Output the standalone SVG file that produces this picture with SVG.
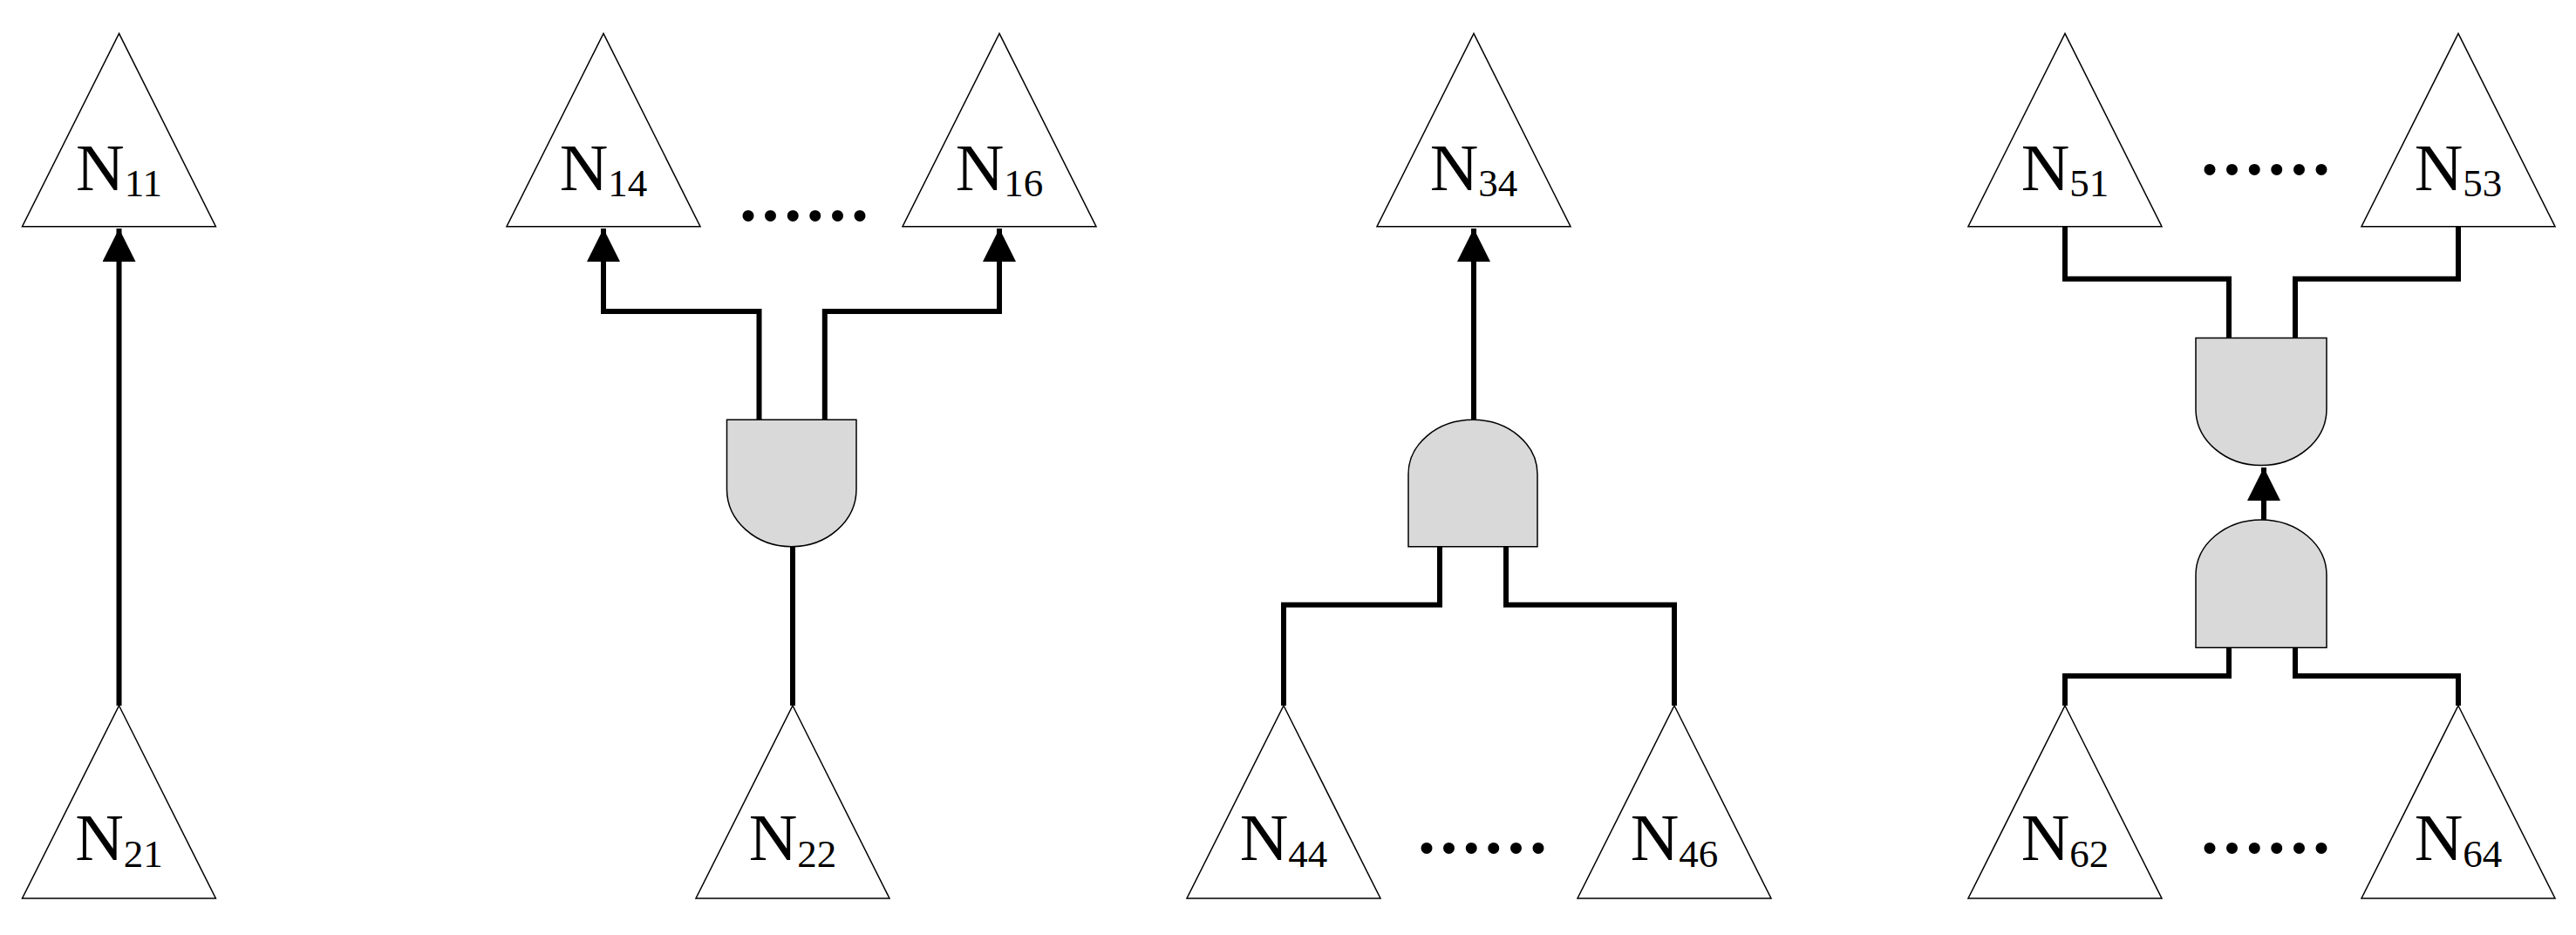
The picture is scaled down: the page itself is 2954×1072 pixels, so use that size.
<svg xmlns="http://www.w3.org/2000/svg" width="2954" height="1072" viewBox="0 0 2954 1072">
<style>
.tri{fill:#fff;stroke:#000;stroke-width:1.5}
.gate{fill:#d9d9d9;stroke:#000;stroke-width:1.5}
.c{fill:none;stroke:#000;stroke-width:6}
.lbl{font-family:"Liberation Serif",serif;font-size:77px;fill:#000}
.sub{font-size:45px}
.dots{font-family:"Liberation Serif",serif;font-size:80px;font-weight:bold;letter-spacing:5.6px;fill:#000}
</style>
<defs>
<marker id="ah" markerUnits="userSpaceOnUse" markerWidth="40" markerHeight="38" refX="38" refY="19" orient="auto">
<path d="M0,0 L38,19 L0,38 Z" fill="#000"/>
</marker>
</defs>
<g id="connectors">
<path class="c" d="M136.5,809 V262" marker-end="url(#ah)"/>
<path class="c" d="M870.5,481.3 V357 H692 V262" marker-end="url(#ah)"/>
<path class="c" d="M945.8,481.3 V357 H1146 V262" marker-end="url(#ah)"/>
<path class="c" d="M909,626.8 V809"/>
<path class="c" d="M1690,481.3 V262" marker-end="url(#ah)"/>
<path class="c" d="M1651,626.8 V693.4 H1472 V809"/>
<path class="c" d="M1727,626.8 V693.4 H1920 V809"/>
<path class="c" d="M2556,387.5 V319.8 H2368 V260"/>
<path class="c" d="M2632,387.5 V319.8 H2819 V260"/>
<path class="c" d="M2596,595.9 V536" marker-end="url(#ah)"/>
<path class="c" d="M2556,742.4 V775 H2368 V809"/>
<path class="c" d="M2632,742.4 V775 H2819 V809"/>
</g>
<g id="gate1"><path class="gate" d="M833.5,481.3 H982 V560.7 A74.25,66 0 0 1 833.5,560.7 Z"/></g>
<g id="gate2"><path class="gate" d="M1615,626.8 V543.7 A74,62.4 0 0 1 1763,543.7 V626.8 Z"/></g>
<g id="gate3"><path class="gate" d="M2518,387.5 H2668 V469 A75,64.6 0 0 1 2518,469 Z"/></g>
<g id="gate4"><path class="gate" d="M2518,742.4 V659.4 A75,63.5 0 0 1 2668,659.4 V742.4 Z"/></g>
<g id="N11"><path class="tri" d="M136.5,38.4 L247.4,259.7 L25.5,259.7 Z"/><text class="lbl" x="136.5" y="217.5" text-anchor="middle">N<tspan class="sub" dy="7">11</tspan></text></g>
<g id="N21"><path class="tri" d="M136.5,809 L247.4,1030 L25.5,1030 Z"/><text class="lbl" x="136.5" y="986" text-anchor="middle">N<tspan class="sub" dy="7.5">21</tspan></text></g>
<g id="N14"><path class="tri" d="M692,38.4 L803,259.7 L581,259.7 Z"/><text class="lbl" x="692" y="217.5" text-anchor="middle">N<tspan class="sub" dy="7">14</tspan></text></g>
<g id="N16"><path class="tri" d="M1146,38.4 L1257,259.7 L1035,259.7 Z"/><text class="lbl" x="1146" y="217.5" text-anchor="middle">N<tspan class="sub" dy="7">16</tspan></text></g>
<g id="N22"><path class="tri" d="M909,809 L1020,1030 L798,1030 Z"/><text class="lbl" x="909" y="986" text-anchor="middle">N<tspan class="sub" dy="7.5">22</tspan></text></g>
<g id="N34"><path class="tri" d="M1690,38.4 L1801,259.7 L1579,259.7 Z"/><text class="lbl" x="1690" y="217.5" text-anchor="middle">N<tspan class="sub" dy="7">34</tspan></text></g>
<g id="N44"><path class="tri" d="M1472,809 L1583,1030 L1361,1030 Z"/><text class="lbl" x="1472" y="986" text-anchor="middle">N<tspan class="sub" dy="7.5">44</tspan></text></g>
<g id="N46"><path class="tri" d="M1920,809 L2031,1030 L1809,1030 Z"/><text class="lbl" x="1920" y="986" text-anchor="middle">N<tspan class="sub" dy="7.5">46</tspan></text></g>
<g id="N51"><path class="tri" d="M2368,38.4 L2479,259.7 L2257,259.7 Z"/><text class="lbl" x="2368" y="217.5" text-anchor="middle">N<tspan class="sub" dy="7">51</tspan></text></g>
<g id="N53"><path class="tri" d="M2819,38.4 L2930,259.7 L2708,259.7 Z"/><text class="lbl" x="2819" y="217.5" text-anchor="middle">N<tspan class="sub" dy="7">53</tspan></text></g>
<g id="N62"><path class="tri" d="M2368,809 L2479,1030 L2257,1030 Z"/><text class="lbl" x="2368" y="986" text-anchor="middle">N<tspan class="sub" dy="7.5">62</tspan></text></g>
<g id="N64"><path class="tri" d="M2819,809 L2930,1030 L2708,1030 Z"/><text class="lbl" x="2819" y="986" text-anchor="middle">N<tspan class="sub" dy="7.5">64</tspan></text></g>
<text class="dots" x="848" y="253">......</text>
<text class="dots" x="1626" y="978">......</text>
<text class="dots" x="2524" y="200">......</text>
<text class="dots" x="2524" y="978">......</text>
</svg>
